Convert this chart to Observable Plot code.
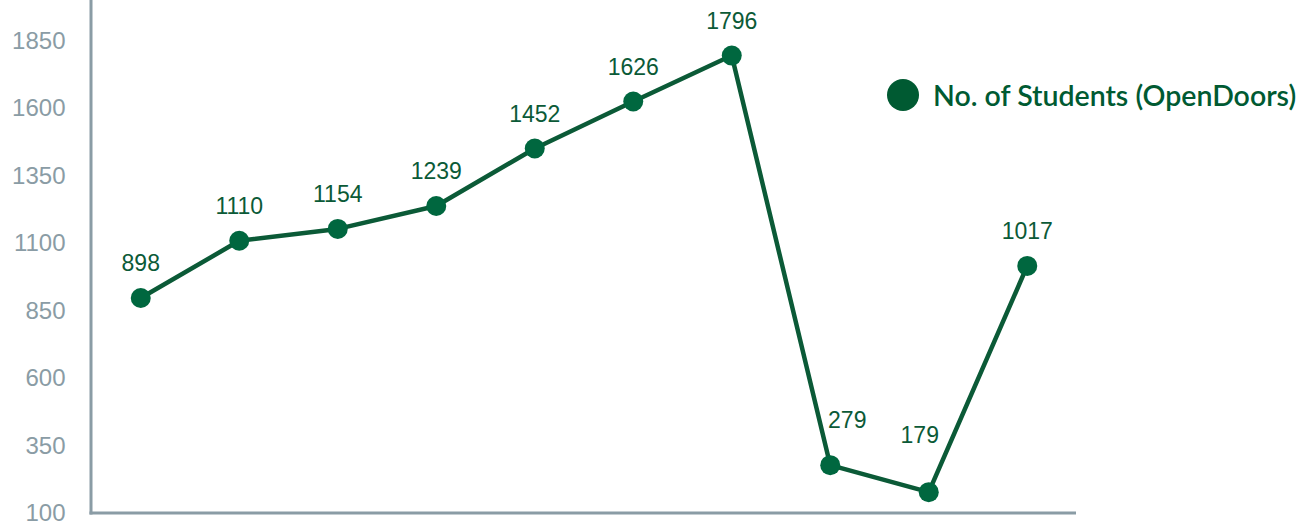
<!DOCTYPE html>
<html>
<head>
<meta charset="utf-8">
<script src="https://cdn.jsdelivr.net/npm/d3@7"></script>
<script src="https://cdn.jsdelivr.net/npm/@observablehq/plot@0.6"></script>
<style>
  html, body { margin: 0; padding: 0; background: #fff; }
  #wrap { position: relative; width: 1316px; height: 525px; overflow: hidden; }
  #legend { position: absolute; left: 887px; top: 78px; display: flex; align-items: center;
    font-family: Lato, "Open Sans", sans-serif; font-weight: 600; font-size: 28.5px; color: #005a32; white-space: nowrap; }
  #legend .dot { width: 32px; height: 32px; border-radius: 50%; background: #005a32; margin-right: 14px; }
</style>
</head>
<body>
<div id="wrap">
  <div id="chart"></div>
  <div id="legend"><span class="dot"></span><span>No. of Students (OpenDoors)</span></div>
</div>
<script>
const years = ["2011/12","2012/13","2013/14","2014/15","2015/16","2016/17","2017/18","2018/19","2019/20","2020/21"];
const students = [898, 1110, 1154, 1239, 1452, 1626, 1796, 279, 179, 1017];
const yTicks = [100, 350, 600, 850, 1100, 1350, 1600, 1850];

const data = years.map((y, i) => ({year: y, value: students[i], i}));
const green = "#0b5a37";
const dotGreen = "#00673f";
const axisColor = "#8a9ca5";

const axes = (index, scales, values, dims) => {
  const g = d3.create("svg:g");
  const x0 = dims.marginLeft, x1 = dims.width - dims.marginRight;
  const y0 = dims.marginTop, y1 = dims.height - dims.marginBottom;
  g.append("line").attr("x1", x0).attr("x2", x0).attr("y1", y0).attr("y2", y1 + 1.5)
    .attr("stroke", axisColor).attr("stroke-width", 3);
  g.append("line").attr("x1", x0 - 1.5).attr("x2", x1).attr("y1", y1).attr("y2", y1)
    .attr("stroke", axisColor).attr("stroke-width", 3);
  return g.node();
};

const plot = Plot.plot({
  width: 1316,
  height: 525,
  marginLeft: 91,
  marginRight: 240,
  marginTop: 0,
  marginBottom: 12,
  style: {fontFamily: "'Liberation Sans', Arial, sans-serif", background: "#fff", overflow: "visible"},
  x: {type: "point", domain: years, padding: 0.5, round: false, axis: null},
  y: {domain: [100, 2000], axis: null},
  marks: [
    Plot.axisY({ticks: yTicks, tickSize: 0, tickPadding: 26, fontSize: 24, fill: axisColor, label: null, tickFormat: d => String(d)}),
    axes,
    Plot.line(data, {x: "year", y: "value", stroke: green, strokeWidth: 4.5}),
    Plot.dot(data, {x: "year", y: "value", r: 10, fill: dotGreen}),
    Plot.text(data.filter(d => d.i !== 7 && d.i !== 8), {x: "year", y: "value", text: d => String(d.value), dy: -34, fontSize: 23, fill: green}),
    Plot.text(data.filter(d => d.i === 7), {x: "year", y: "value", text: d => String(d.value), dx: 17, dy: -45, fontSize: 23, fill: green}),
    Plot.text(data.filter(d => d.i === 8), {x: "year", y: "value", text: d => String(d.value), dx: -9, dy: -57, fontSize: 23, fill: green})
  ]
});
document.getElementById("chart").appendChild(plot);
</script>
</body>
</html>
